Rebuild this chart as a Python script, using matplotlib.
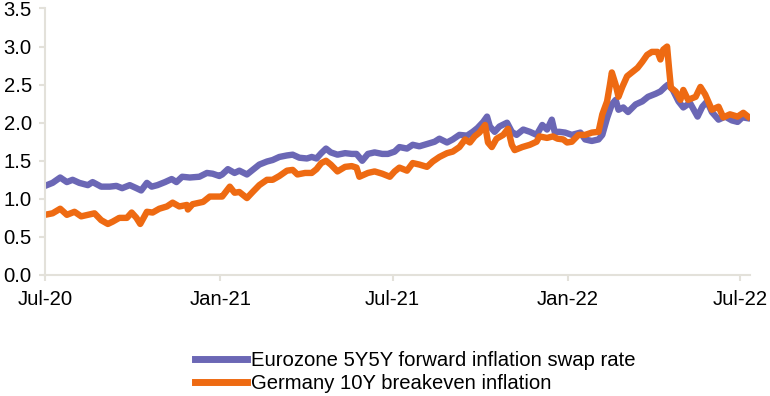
import matplotlib
matplotlib.use("Agg")
import matplotlib.pyplot as plt
import pandas as pd

# Eurozone 5Y5Y forward inflation swap rate
ez_dates = [
    "2020-07-01", "2020-07-09", "2020-07-17", "2020-07-24", "2020-07-30", "2020-08-06",
    "2020-08-15", "2020-08-20", "2020-08-29", "2020-09-07", "2020-09-14", "2020-09-20",
    "2020-09-28", "2020-10-05", "2020-10-10", "2020-10-16", "2020-10-21", "2020-10-27",
    "2020-11-04", "2020-11-11", "2020-11-16", "2020-11-22", "2020-11-30", "2020-12-10",
    "2020-12-18", "2020-12-24", "2020-12-31", "2021-01-03", "2021-01-09", "2021-01-16",
    "2021-01-21", "2021-01-29", "2021-02-04", "2021-02-11", "2021-02-19", "2021-02-25",
    "2021-03-04", "2021-03-12", "2021-03-18", "2021-03-25", "2021-04-02", "2021-04-07",
    "2021-04-12", "2021-04-17", "2021-04-22", "2021-04-27", "2021-05-04", "2021-05-12",
    "2021-05-19", "2021-05-24", "2021-05-30", "2021-06-05", "2021-06-12", "2021-06-20",
    "2021-06-26", "2021-07-03", "2021-07-08", "2021-07-16", "2021-07-22", "2021-07-29",
    "2021-08-06", "2021-08-14", "2021-08-19", "2021-08-27", "2021-09-02", "2021-09-09",
    "2021-09-17", "2021-09-23", "2021-09-28", "2021-10-04", "2021-10-08", "2021-10-11",
    "2021-10-16", "2021-10-21", "2021-10-29", "2021-11-03", "2021-11-08", "2021-11-15",
    "2021-11-22", "2021-11-29", "2021-12-05", "2021-12-10", "2021-12-15", "2021-12-18",
    "2021-12-23", "2021-12-29", "2022-01-05", "2022-01-14", "2022-01-19", "2022-01-26",
    "2022-02-02", "2022-02-06", "2022-02-11", "2022-02-16", "2022-02-20", "2022-02-23",
    "2022-02-28", "2022-03-05", "2022-03-13", "2022-03-20", "2022-03-26", "2022-04-03",
    "2022-04-08", "2022-04-13", "2022-04-16", "2022-04-21", "2022-04-27", "2022-05-02",
    "2022-05-09", "2022-05-17", "2022-05-22", "2022-05-27", "2022-06-01", "2022-06-08",
    "2022-06-15", "2022-06-22", "2022-06-28", "2022-07-03", "2022-07-08",
]
ez_values = [
    1.17, 1.21, 1.28, 1.22, 1.25, 1.21, 1.18, 1.22, 1.16, 1.16, 1.17, 1.14,
    1.18, 1.14, 1.11, 1.21, 1.16, 1.18, 1.22, 1.26, 1.22, 1.29, 1.28, 1.29,
    1.34, 1.33, 1.30, 1.32, 1.39, 1.34, 1.37, 1.32, 1.38, 1.45, 1.49, 1.51,
    1.55, 1.57, 1.58, 1.54, 1.53, 1.55, 1.53, 1.60, 1.66, 1.61, 1.58, 1.60,
    1.59, 1.59, 1.50, 1.59, 1.61, 1.59, 1.59, 1.62, 1.68, 1.66, 1.71, 1.69,
    1.72, 1.75, 1.79, 1.74, 1.78, 1.84, 1.83, 1.88, 1.93, 2.01, 2.08, 1.95,
    1.88, 1.95, 2.00, 1.88, 1.84, 1.91, 1.88, 1.84, 1.97, 1.91, 2.04, 1.88,
    1.88, 1.87, 1.84, 1.87, 1.78, 1.76, 1.78, 1.84, 2.06, 2.24, 2.30, 2.17,
    2.20, 2.14, 2.24, 2.28, 2.34, 2.38, 2.41, 2.47, 2.50, 2.43, 2.28, 2.20,
    2.26, 2.08, 2.21, 2.28, 2.14, 2.04, 2.08, 2.03, 2.01, 2.07, 2.06,
]

# Germany 10Y breakeven inflation
de_dates = [
    "2020-07-01", "2020-07-09", "2020-07-17", "2020-07-24", "2020-08-01", "2020-08-08",
    "2020-08-15", "2020-08-22", "2020-08-29", "2020-09-05", "2020-09-10", "2020-09-17",
    "2020-09-25", "2020-09-30", "2020-10-05", "2020-10-09", "2020-10-16", "2020-10-22",
    "2020-10-29", "2020-11-06", "2020-11-12", "2020-11-19", "2020-11-27", "2020-11-28",
    "2020-12-03", "2020-12-14", "2020-12-21", "2020-12-31", "2021-01-03", "2021-01-11",
    "2021-01-16", "2021-01-21", "2021-01-29", "2021-02-04", "2021-02-11", "2021-02-19",
    "2021-02-25", "2021-03-04", "2021-03-12", "2021-03-18", "2021-03-23", "2021-03-31",
    "2021-04-07", "2021-04-12", "2021-04-17", "2021-04-22", "2021-04-27", "2021-05-04",
    "2021-05-12", "2021-05-19", "2021-05-24", "2021-05-27", "2021-06-05", "2021-06-12",
    "2021-06-20", "2021-06-28", "2021-07-03", "2021-07-08", "2021-07-16", "2021-07-22",
    "2021-07-29", "2021-08-06", "2021-08-12", "2021-08-19", "2021-08-27", "2021-09-02",
    "2021-09-09", "2021-09-15", "2021-09-20", "2021-09-25", "2021-09-30", "2021-10-06",
    "2021-10-09", "2021-10-13", "2021-10-18", "2021-10-25", "2021-10-30", "2021-11-03",
    "2021-11-06", "2021-11-14", "2021-11-22", "2021-11-29", "2021-12-02", "2021-12-10",
    "2021-12-16", "2021-12-21", "2021-12-27", "2021-12-31", "2022-01-05", "2022-01-12",
    "2022-01-19", "2022-01-26", "2022-02-02", "2022-02-06", "2022-02-11", "2022-02-14",
    "2022-02-16", "2022-02-20", "2022-02-23", "2022-02-27", "2022-03-04", "2022-03-09",
    "2022-03-15", "2022-03-20", "2022-03-25", "2022-03-30", "2022-04-05", "2022-04-08",
    "2022-04-11", "2022-04-15", "2022-04-17", "2022-04-19", "2022-04-24", "2022-04-29",
    "2022-05-02", "2022-05-07", "2022-05-15", "2022-05-20", "2022-05-25", "2022-06-01",
    "2022-06-08", "2022-06-13", "2022-06-20", "2022-06-28", "2022-07-04", "2022-07-09",
]
de_values = [
    0.79, 0.81, 0.87, 0.79, 0.83, 0.77, 0.79, 0.81, 0.72, 0.67, 0.70, 0.75,
    0.75, 0.82, 0.75, 0.67, 0.83, 0.82, 0.87, 0.90, 0.95, 0.90, 0.92, 0.86,
    0.93, 0.96, 1.03, 1.03, 1.03, 1.16, 1.08, 1.09, 1.01, 1.09, 1.18, 1.25,
    1.25, 1.30, 1.37, 1.38, 1.32, 1.34, 1.34, 1.39, 1.47, 1.50, 1.45, 1.36,
    1.42, 1.43, 1.41, 1.29, 1.34, 1.36, 1.33, 1.29, 1.36, 1.41, 1.37, 1.47,
    1.45, 1.42, 1.49, 1.55, 1.60, 1.62, 1.68, 1.78, 1.74, 1.82, 1.87, 1.97,
    1.74, 1.68, 1.79, 1.84, 1.92, 1.71, 1.64, 1.68, 1.71, 1.75, 1.82, 1.80,
    1.82, 1.79, 1.78, 1.74, 1.75, 1.84, 1.84, 1.87, 1.88, 2.11, 2.28, 2.50,
    2.66, 2.50, 2.34, 2.47, 2.61, 2.66, 2.72, 2.80, 2.89, 2.93, 2.93, 2.83,
    2.96, 3.00, 2.72, 2.46, 2.41, 2.30, 2.43, 2.30, 2.34, 2.47, 2.37, 2.17,
    2.21, 2.07, 2.11, 2.08, 2.13, 2.08,
]

tick_dates = ["2020-07-01", "2021-01-01", "2021-07-01", "2022-01-01", "2022-07-01"]
tick_labels = ["Jul-20", "Jan-21", "Jul-21", "Jan-22", "Jul-22"]
y_ticks = [0.0, 0.5, 1.0, 1.5, 2.0, 2.5, 3.0, 3.5]

ez_color = "#6B67B5"
de_color = "#EE6A12"
axis_color = "#E3E1DA"

plt.rcParams["font.family"] = ["Liberation Sans", "DejaVu Sans"]
plt.rcParams["font.size"] = 14.6

fig = plt.figure(figsize=(7.7, 3.96), dpi=100)
ax = fig.add_axes([0.0584, 0.3056, 0.9156, 0.673])

ax.plot(pd.to_datetime(ez_dates), ez_values, color=ez_color, lw=4.6,
        solid_joinstyle="round", label="Eurozone 5Y5Y forward inflation swap rate")
ax.plot(pd.to_datetime(de_dates), de_values, color=de_color, lw=4.6,
        solid_joinstyle="round", label="Germany 10Y breakeven inflation")

ax.set_xlim(pd.Timestamp("2020-07-01"), pd.Timestamp("2022-07-11"))
ax.set_ylim(0, 3.5)
ax.set_xticks(pd.to_datetime(tick_dates))
ax.set_xticklabels(tick_labels)
ax.set_yticks(y_ticks)
ax.set_yticklabels([f"{v:.1f}" for v in y_ticks])

for side in ["top", "right"]:
    ax.spines[side].set_visible(False)
for side in ["left", "bottom"]:
    ax.spines[side].set_color(axis_color)
    ax.spines[side].set_linewidth(1.5)
ax.tick_params(axis="both", colors=axis_color, length=4, width=1.5, labelcolor="black")
ax.tick_params(axis="x", pad=7)
ax.tick_params(axis="y", pad=5.5)

leg = fig.legend(loc="upper left", bbox_to_anchor=(0.253, 0.113), frameon=False,
                 handlelength=2.56, handletextpad=0.2, labelspacing=0.2,
                 borderaxespad=0, borderpad=0)
for line in leg.get_lines():
    line.set_linewidth(5)

fig.savefig("out.png", dpi=100)
